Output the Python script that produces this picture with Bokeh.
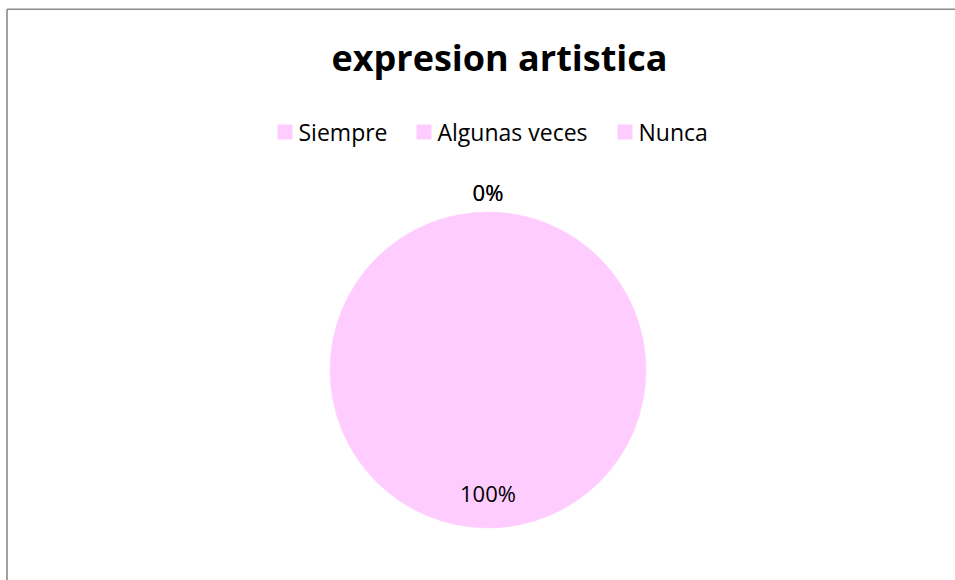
import math
from bokeh.plotting import figure
from bokeh.models import Range1d, ColumnDataSource
from bokeh.core.properties import value
from bokeh.embed import file_html
from bokeh.resources import INLINE

# ---- data ----
categories = ["Siempre", "Algunas veces", "Nunca"]
values = [100, 0, 0]
colors = ["#FFCCFF", "#FFCCFF", "#FFCCFF"]
title_text = "expresion artistica"

# ---- layout (pixel space) ----
W, H = 955, 580

def X(xi):
    return xi

def Y(yi):
    return H - yi

p = figure(width=W, height=H, output_backend="svg", toolbar_location=None,
           x_range=Range1d(0, W), y_range=Range1d(0, H), min_border=0,
           outline_line_color=None, background_fill_color="white",
           border_fill_color="white")
p.axis.visible = False
p.grid.visible = False

FONT = "Open Sans"

# border (top and left visible, rest outside window)
p.segment(x0=[X(6.5), X(6.5)], y0=[Y(8.8), Y(8.8)], x1=[X(6.5), X(1000)], y1=[Y(700), Y(8.8)],
          line_color="#8a8a8a", line_width=1.6)

# title
p.text(x=[X(499)], y=[Y(57)], text=[title_text], text_font=value(FONT),
       text_font_style="bold", text_font_size="36px", text_align="center",
       text_baseline="alphabetic", text_color="black")

# pie
cx, cy, r = 487.5, 369.5, 158
total = sum(values)
starts, ends, mids = [], [], []
cum = 0.0
for v in values:
    a0 = math.pi / 2 - 2 * math.pi * cum / total
    cum += v
    a1 = math.pi / 2 - 2 * math.pi * cum / total
    starts.append(a1)
    ends.append(a0)
    mids.append((a0 + a1) / 2)

# draw each slice as two halves to avoid degenerate full-circle arcs
hs, he, hc = [], [], []
for s, e, c in zip(starts, ends, colors):
    if e - s <= 0:
        continue
    m = (s + e) / 2
    hs += [s, m]
    he += [m, e]
    hc += [c, c]
src = ColumnDataSource(dict(x=[X(cx)] * len(hs), y=[Y(cy)] * len(hs), s=hs, e=he, c=hc))
p.wedge(x="x", y="y", radius=r, radius_units="screen", start_angle="s", end_angle="e",
        direction="anticlock", fill_color="c", line_color="c", line_width=0.5, source=src)

# data labels
lx, ly, lt = [], [], []
for v, m in zip(values, mids):
    pct = f"{round(100 * v / total)}%"
    rr = r * 0.78 if v > 0 else r + 20
    lx.append(X(cx) + rr * math.cos(m))
    ly.append(Y(cy) + rr * math.sin(m))
    lt.append(pct)
p.text(x=lx, y=ly, text=lt, text_font=value(FONT), text_font_size="22px",
       text_align="center", text_baseline="middle", text_color="black")

# legend
sq_left = [277, 416, 617]
leg_y = 131.5
p.rect(x=[X(s + 7.5) for s in sq_left], y=[Y(leg_y)] * 3, width=15, height=15,
       width_units="screen", height_units="screen", fill_color=colors, line_color=None)
p.text(x=[X(s + 21) for s in sq_left], y=[Y(leg_y)] * 3, text=categories,
       text_font=value(FONT), text_font_size="23px", text_align="left",
       text_baseline="middle", text_color="black")

open("out.html", "w").write(file_html(p, INLINE))
